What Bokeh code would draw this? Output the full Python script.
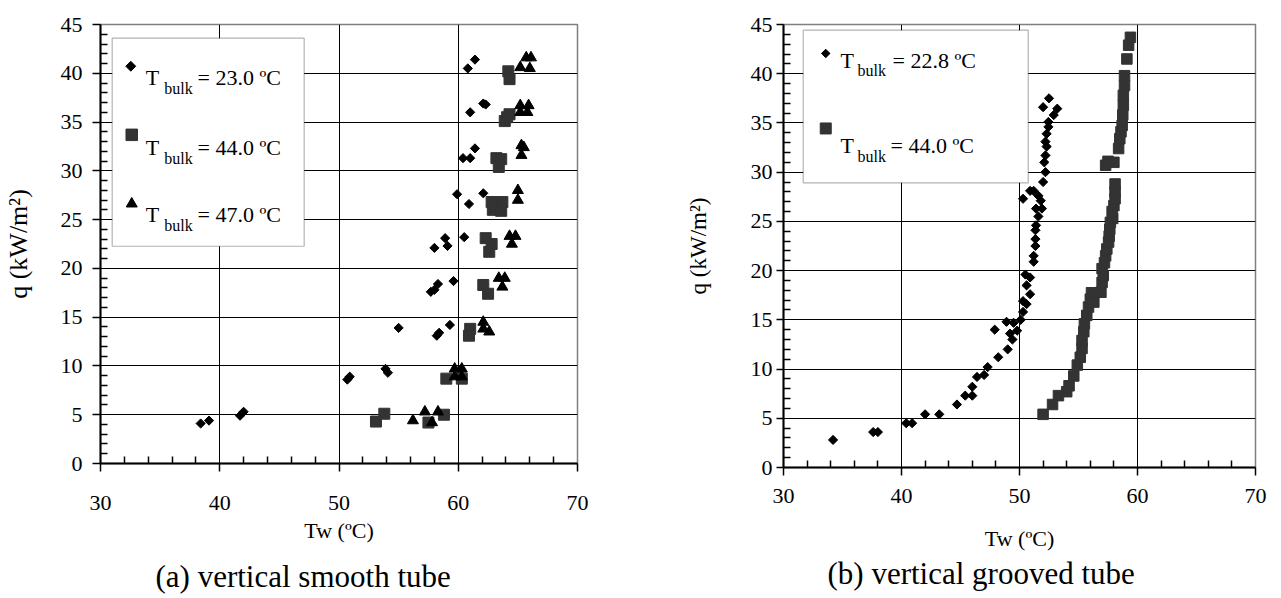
import numpy as np
from bokeh.plotting import figure
from bokeh.layouts import row
from bokeh.models import Range1d, FixedTicker, Label, BoxAnnotation, Title
from bokeh.embed import file_html
from bokeh.resources import INLINE

# ---------------- data: (a) vertical smooth tube ----------------
smooth_t23_tw = [38.4, 39.1, 41.7, 42.0, 50.7, 50.9, 53.9, 54.1, 55.0, 58.2, 58.4, 59.3,
                 57.7, 58.0, 58.3, 59.6, 58.0, 58.9, 59.1, 60.5, 59.9, 60.9, 62.1,
                 60.4, 61.0, 61.4, 61.0, 62.1, 62.3, 60.8, 61.4]
smooth_t23_q = [4.1, 4.4, 4.9, 5.3, 8.6, 8.9, 9.7, 9.3, 13.9, 13.1, 13.4, 14.2,
                17.6, 17.8, 18.4, 18.7, 22.1, 23.1, 22.3, 23.2, 27.6, 26.6, 27.7,
                31.3, 31.3, 32.3, 36.0, 36.9, 36.8, 40.5, 41.4]

smooth_t44_tw = [53.1, 53.8, 57.5, 58.8, 59.0, 60.3, 61.0, 60.9, 62.1, 62.5, 62.3, 62.8, 62.6,
                 62.8, 63.7, 62.9, 63.6, 63.2, 63.6, 63.4, 63.9, 64.3, 64.1, 64.2, 64.3]
smooth_t44_q = [4.3, 5.1, 4.2, 5.0, 8.7, 8.7, 13.8, 13.1, 18.3, 17.4, 23.1, 22.5, 21.7,
                26.8, 26.8, 26.0, 25.9, 31.3, 31.2, 30.4, 35.1, 35.8, 35.5, 40.2, 39.4]

smooth_t47_tw = [56.2, 57.2, 57.8, 58.3, 59.7, 60.3, 59.7, 60.3, 62.1, 62.1, 62.6, 63.4, 63.9, 63.7,
                 64.3, 64.8, 64.5, 65.0, 65.0, 65.3, 65.5, 65.3, 65.2, 65.9, 65.2, 65.8,
                 65.7, 66.1, 65.2, 66.0]
smooth_t47_q = [4.4, 5.3, 4.2, 5.3, 9.7, 9.7, 8.9, 8.9, 14.5, 13.8, 13.5, 19.0, 19.0, 18.1,
                23.3, 23.3, 22.5, 28.0, 27.0, 32.6, 32.4, 31.6, 36.7, 36.7, 36.0, 36.0,
                41.6, 41.6, 40.6, 40.5]

# ---------------- data: (b) vertical grooved tube ----------------
grooved_t22_tw = [34.2, 37.6, 38.0, 40.4, 40.9, 42.0, 43.2, 44.7, 45.4, 46.0, 46.0, 46.4, 47.0, 47.3,
                  48.2, 49.0, 49.4, 49.2, 49.8, 47.9, 48.9, 49.5, 50.1, 50.3, 50.6, 50.3, 50.9,
                  50.6, 50.9, 50.5, 51.2, 51.2, 51.35, 51.35, 51.35, 51.4, 51.6, 51.9, 51.4,
                  51.8, 51.6, 51.2, 50.9, 50.3, 52.0, 52.2, 52.1, 52.2, 52.3, 52.2, 52.3,
                  52.45, 52.45, 52.9, 53.2, 52.0, 52.5]
grooved_t22_q = [2.8, 3.6, 3.6, 4.5, 4.5, 5.4, 5.4, 6.4, 7.3, 7.3, 8.2, 9.2, 9.4, 10.2,
                 11.2, 12.0, 13.0, 13.6, 13.9, 14.0, 14.8, 14.7, 15.0, 15.8, 16.6, 16.9, 17.6,
                 18.5, 19.3, 19.6, 20.9, 21.5, 22.5, 23.2, 24.1, 24.6, 25.5, 26.3, 26.3,
                 27.1, 27.6, 28.1, 28.1, 27.3, 29.0, 30.0, 31.0, 31.7, 32.6, 33.1, 33.9,
                 34.6, 35.1, 35.8, 36.45, 36.6, 37.5]

grooved_t44_tw = [52.0, 52.8, 53.3, 54.0, 54.2, 54.6, 54.9, 55.15, 55.3, 55.3, 55.45, 55.5, 55.7,
                  55.85, 56.0, 56.1, 56.3, 56.9, 57.0, 57.1, 57.0, 57.2, 57.3, 57.4, 57.55,
                  57.6, 57.65, 57.7, 57.9, 57.85, 58.0, 58.1, 58.1, 58.1, 57.3, 57.5, 58.0,
                  58.4, 58.5, 58.6, 58.7, 58.75, 58.8, 58.8, 58.9, 58.9, 59.1, 59.25, 59.4]
grooved_t44_q = [5.4, 6.4, 7.3, 7.7, 8.3, 9.3, 10.4, 11.2, 12.1, 12.9, 13.8, 14.6, 15.45,
                 16.3, 17.1, 17.75, 16.8, 17.8, 18.8, 19.5, 20.2, 20.8, 21.5, 22.2, 22.9,
                 23.5, 24.2, 24.9, 25.3, 26.0, 26.6, 27.3, 28.0, 28.8, 30.7, 31.1, 31.0,
                 32.4, 33.4, 34.1, 34.75, 35.8, 36.8, 37.8, 38.8, 39.8, 41.5, 42.9, 43.7]

smooth_labels = ["= 23.0 ºC", "= 44.0 ºC", "= 47.0 ºC"]
grooved_labels = ["= 22.8 ºC", "= 44.0 ºC"]

x_major = [30, 40, 50, 60, 70]
x_minor = [32, 34, 36, 38, 42, 44, 46, 48, 52, 54, 56, 58, 62, 64, 66, 68]
y_major = [0, 5, 10, 15, 20, 25, 30, 35, 40, 45]
y_minor = [v for v in range(0, 46) if v % 5 != 0]

FONT = "Liberation Serif"
SQUARE_COLOR = "#333333"


def base_fig(fw, fh, bl, bt, br, bb, ytick_out, ystand, ylab_size, ylab_standoff,
             xstand, xlab_standoff, caption, cap_offset, cap_standoff):
    p = figure(frame_width=fw, frame_height=fh, min_border_left=bl, min_border_top=bt,
               min_border_right=br, min_border_bottom=bb,
               x_range=Range1d(30, 70), y_range=Range1d(0, 45),
               output_backend="svg", toolbar_location=None)
    p.background_fill_color = "white"
    p.border_fill_color = "white"
    p.outline_line_color = "#808080"
    p.outline_line_width = 1.5
    p.xaxis.ticker = FixedTicker(ticks=x_major, minor_ticks=x_minor)
    p.yaxis.ticker = FixedTicker(ticks=y_major, minor_ticks=y_minor)
    p.xgrid.ticker = FixedTicker(ticks=x_major[1:-1])
    p.ygrid.ticker = FixedTicker(ticks=y_major[1:-1])
    for g in (p.xgrid, p.ygrid):
        g.grid_line_color = "#000000"
        g.grid_line_width = 1
    for ax in p.axis:
        ax.axis_line_color = "#000000"
        ax.axis_line_width = 2
        ax.major_tick_line_color = "#000000"
        ax.minor_tick_line_color = "#000000"
        ax.major_tick_line_width = 1.5
        ax.minor_tick_line_width = 1.5
        ax.major_tick_in = 0
        ax.minor_tick_in = 7
        ax.minor_tick_out = 0
        ax.major_label_text_font = FONT
        ax.major_label_text_font_size = "22px"
        ax.major_label_text_color = "#000000"
        ax.axis_label_text_font = FONT
        ax.axis_label_text_font_style = "normal"
        ax.axis_label_text_color = "#000000"
    p.xaxis.major_tick_out = 8
    p.xaxis.major_label_standoff = xstand
    p.xaxis.axis_label = "Tw (ºC)"
    p.xaxis.axis_label_text_font_size = "22px"
    p.xaxis.axis_label_standoff = xlab_standoff
    p.yaxis.major_tick_out = ytick_out
    p.yaxis.major_label_standoff = ystand
    p.yaxis.axis_label = "q (kW/m²)"
    p.yaxis.axis_label_text_font_size = ylab_size
    p.yaxis.axis_label_standoff = ylab_standoff
    p.add_layout(Title(text=caption, align="left", offset=cap_offset, text_font=FONT,
                       text_font_size="31px", text_font_style="normal",
                       text_color="#000000", standoff=cap_standoff), "below")
    return p


def add_text(p, x, y, text, size):
    p.add_layout(Label(x=x, y=y, x_units="screen", y_units="screen", text=text,
                       text_font=FONT, text_font_size=size, text_color="#000000",
                       text_baseline="alphabetic"))


def legend_row(p, x, y, bx, by, ex, tail):
    add_text(p, x, y, "T", "22px")
    add_text(p, bx, by, "bulk", "16px")
    add_text(p, ex, y, tail, "22px")


# ---------------- left figure ----------------
p1 = base_fig(477, 439, 98, 24, 65, 135, 8, 10, "26px", 25, 24, 5,
              "(a) vertical smooth tube", 55, 23)
p1.add_layout(BoxAnnotation(left=30.98, right=47.08, bottom=22.27, top=43.6,
                            fill_color="white", fill_alpha=1, level="underlay",
                            line_color="#000000", line_width=1.2))
p1.scatter(smooth_t23_tw, smooth_t23_q, marker="square", angle=np.pi / 4, size=6.5,
           fill_color="#000000", line_color="#000000", line_width=1)
p1.scatter(smooth_t44_tw, smooth_t44_q, marker="square", size=11,
           fill_color=SQUARE_COLOR, line_color=SQUARE_COLOR, line_width=1)
p1.scatter(smooth_t47_tw, smooth_t47_q, marker="triangle", size=11,
           fill_color="#000000", line_color="#000000", line_width=1)
# legend keys (legend layout positions)
p1.scatter([32.54], [40.72], marker="square", angle=np.pi / 4, size=7,
           fill_color="#000000", line_color="#000000", line_width=1)
p1.scatter([32.62], [33.69], marker="square", size=11.5,
           fill_color=SQUARE_COLOR, line_color=SQUARE_COLOR, line_width=1)
p1.scatter([32.62], [26.62], marker="triangle", size=11,
           fill_color="#000000", line_color="#000000", line_width=1)
legend_row(p1, 45.3, 385.7, 63.7, 374.7, 97, smooth_labels[0])
legend_row(p1, 45.3, 316.3, 63.7, 305.3, 97, smooth_labels[1])
legend_row(p1, 45.3, 248.7, 63.7, 237.7, 97, smooth_labels[2])

# ---------------- right figure ----------------
p2 = base_fig(472, 443, 141, 16, 28, 139, 7, 4, "23px", 37, 13, 20,
              "(b) vertical grooved tube", 44, 0)
p2.add_layout(BoxAnnotation(left=31.67, right=50.74, bottom=28.92, top=44.42,
                            fill_color="white", fill_alpha=1, level="underlay",
                            line_color="#000000", line_width=1.2))
p2.scatter(grooved_t22_tw, grooved_t22_q, marker="square", angle=np.pi / 4, size=6.5,
           fill_color="#000000", line_color="#000000", line_width=1)
p2.scatter(grooved_t44_tw, grooved_t44_q, marker="square", size=10.5,
           fill_color=SQUARE_COLOR, line_color=SQUARE_COLOR, line_width=1)
p2.scatter([33.58], [42.06], marker="square", angle=np.pi / 4, size=6,
           fill_color="#000000", line_color="#000000", line_width=1)
p2.scatter([33.58], [34.44], marker="square", size=11,
           fill_color=SQUARE_COLOR, line_color=SQUARE_COLOR, line_width=1)
legend_row(p2, 57, 407.3, 74, 397.3, 109, grooved_labels[0])
legend_row(p2, 57, 322.3, 74, 310.7, 107, grooved_labels[1])

layout = row(p1, p2)
open("out.html", "w").write(file_html(layout, INLINE))
